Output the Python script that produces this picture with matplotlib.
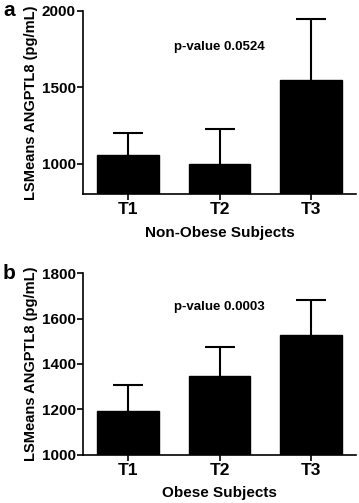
import matplotlib.pyplot as plt

plt.rcParams["font.family"] = ["Liberation Sans", "DejaVu Sans"]
plt.rcParams["font.weight"] = "bold"

groups = ["T1", "T2", "T3"]

non_obese_means = [1055, 1000, 1545]
non_obese_err = [145, 225, 403]

obese_means = [1193, 1348, 1529]
obese_err = [116, 126, 152]

panels = [
    ("a", "Non-Obese Subjects", non_obese_means, non_obese_err,
     (800, 2000), [1000, 1500, 2000], "p-value 0.0524", 1763),
    ("b", "Obese Subjects", obese_means, obese_err,
     (1000, 1800), [1000, 1200, 1400, 1600, 1800], "p-value 0.0003", 1650),
]

fig = plt.figure(figsize=(3.59, 5.03), dpi=100)
rects = [[0.231, 0.614, 0.761, 0.365], [0.231, 0.096, 0.761, 0.361]]

for rect, (letter, xlabel, means, errs, ylim, yticks, ptext, py) in zip(rects, panels):
    ax = fig.add_axes(rect)
    x = range(len(groups))
    # symmetric error bars drawn behind the bars, so only the upper half shows
    ax.errorbar(x, means, yerr=errs, fmt="none",
                ecolor="black", elinewidth=1.5, capsize=11, capthick=1.5, zorder=1)
    ax.bar(x, means, width=0.68, color="black", edgecolor="black", zorder=2)
    ax.set_xlim(-0.5, 2.5)
    ax.set_ylim(*ylim)
    ax.set_yticks(yticks)
    ax.set_xticks(list(x))
    ax.set_xticklabels(groups, fontsize=12.5, fontweight="bold")
    ax.tick_params(axis="y", labelsize=11, width=1.2, length=4, pad=1)
    ax.tick_params(axis="x", width=1.2, length=4, pad=2)
    for lab in ax.get_yticklabels():
        lab.set_fontweight("bold")
    for side in ("top", "right"):
        ax.spines[side].set_visible(False)
    for side in ("left", "bottom"):
        ax.spines[side].set_linewidth(1.2)
    ax.set_xlabel(xlabel, fontsize=11, fontweight="bold", labelpad=6)
    ax.set_ylabel("LSMeans ANGPTL8 (pg/mL)", fontsize=10.5, fontweight="bold", labelpad=3)
    ax.text(1, py, ptext, ha="center", va="center", fontsize=9.5, fontweight="bold")
    ax.text(-0.27, 1.0, letter, transform=ax.transAxes, fontsize=15,
            fontweight="bold", ha="center", va="center")

fig.savefig("out.png", dpi=100)
